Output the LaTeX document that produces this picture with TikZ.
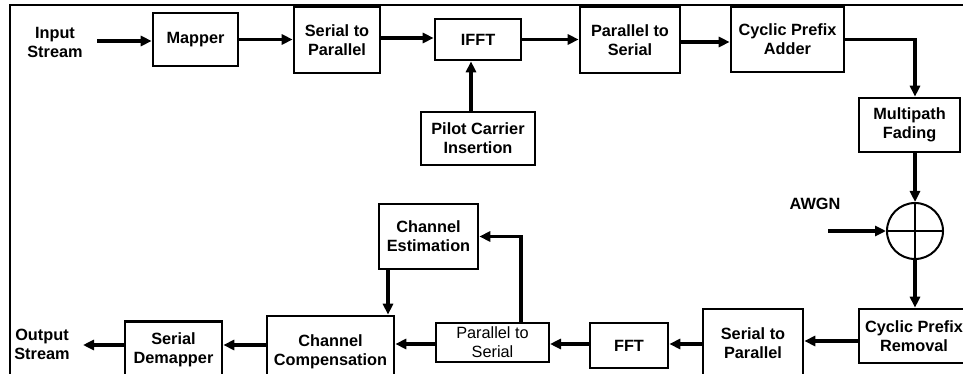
\documentclass[tikz,border=0pt]{standalone}
\usepackage{fontspec}
\setmainfont{Liberation Sans}
\usetikzlibrary{arrows.meta,calc}
\begin{document}
\begin{tikzpicture}[x=1pt,y=-1pt,
  box/.style={draw, line width=2.6pt, align=center, inner sep=0pt,
    font=\fontsize{16.3}{19}\selectfont\bfseries},
  thinbox/.style={draw, line width=2pt, align=center, inner sep=0pt,
    font=\fontsize{16.3}{19}\selectfont},
  lbl/.style={align=center, inner sep=0pt, font=\fontsize{16.3}{19}\selectfont\bfseries},
  arr/.style={line width=3.8pt, -{Triangle[length=11pt,width=10pt]}}
]
\useasboundingbox (0,0) rectangle (963,374);
% frame
\draw[line width=2.5pt] (10,375) -- (10,5) -- (965,5);

% transmitter
\node[lbl] (instr) at (55,42) {Input\\Stream};
\node[box, minimum width=85pt, minimum height=53pt] (mapper) at (195.5,39.5) {Mapper};
\node[box, minimum width=86pt, minimum height=66pt] (sp1) at (337,40) {Serial to\\Parallel};
\node[box, minimum width=86pt, minimum height=41pt] (ifft) at (478,39.5) {IFFT};
\node[box, minimum width=100pt, minimum height=66pt] (ps1) at (630,40) {Parallel to\\Serial};
\node[box, minimum width=113pt, minimum height=65pt] (cpa) at (787.5,39.5) {Cyclic Prefix\\Adder};
\node[box, minimum width=101pt, minimum height=54pt] (mf) at (909.5,125) {Multipath\\Fading};
\node[box, minimum width=114pt, minimum height=53pt] (pci) at (478,138.5) {Pilot Carrier\\Insertion};

% channel
\node[draw, circle, line width=2pt, minimum size=56pt, inner sep=0pt] (sum) at (915,231) {};
\draw[line width=2pt] (sum.north) -- (sum.south) (sum.west) -- (sum.east);
\node[lbl] (awgn) at (815,204) {AWGN};

% receiver
\node[box, minimum width=110pt, minimum height=54pt] (cpr) at (914,336) {Cyclic Prefix\\Removal};
\node[box, minimum width=100pt, minimum height=68pt] (sp2) at (753,343) {Serial to\\Parallel};
\node[box, minimum width=78pt, minimum height=45pt] (fft) at (629,345.5) {FFT};
\node[thinbox, minimum width=113pt, minimum height=39pt] (ps2) at (492.5,342.5) {Parallel to\\Serial};
\node[box, minimum width=99pt, minimum height=65pt] (ce) at (428.5,236.5) {Channel\\Estimation};
\node[box, minimum width=127pt, minimum height=72pt] (cc) at (330.5,352) {Channel\\Compensation};
\node[box, minimum width=97pt, minimum height=57pt] (sd) at (173.5,350) {Serial\\Demapper};
\node[lbl] (outstr) at (42,344) {Output\\Stream};

% helper coordinates
\coordinate (instart) at (97,41);
\coordinate (awgnin) at (828,231);
\coordinate (outend) at (83,345);
\coordinate (ya) at (0,38);
\coordinate (yb) at (0,42);
\coordinate (xp) at (471,0);
\coordinate (yr1) at (0,341);
\coordinate (yr2) at (0,344);
\coordinate (yr3) at (0,345);
\coordinate (xe) at (521,0);
\coordinate (xc) at (388,0);

% connectors transmitter
\draw[arr] (instart) -- (instart -| mapper.west);
\draw[arr] (mapper.east) -- (sp1.west |- mapper.east);
\draw[arr] (sp1.east |- ya) -- (ifft.west |- ya);
\draw[arr] (ifft.east) -- (ps1.west |- ifft.east);
\draw[arr] (ps1.east |- yb) -- (cpa.west |- yb);
\draw[arr] (cpa.east) -| (sum.north |- mf.north);
\draw[arr] (pci.north -| xp) -- (ifft.south -| xp);
\draw[arr] (sum.north |- mf.south) -- (sum.north);
\draw[arr] (awgnin) -- (sum.west);
\draw[arr] (sum.south) -- (sum.south |- cpr.north);

% connectors receiver
\draw[arr] (cpr.west |- yr1) -- (sp2.east |- yr1);
\draw[arr] (sp2.west |- yr2) -- (fft.east |- yr2);
\draw[arr] (fft.west |- yr2) -- (ps2.east |- yr2);
\draw[arr] (ps2.west |- yr2) -- (cc.east |- yr2);
\draw[arr] (cc.west |- yr3) -- (sd.east |- yr3);
\draw[arr] (sd.west |- yr3) -- (outend);
\draw[arr] (ps2.north -| xe) |- (ce.east);
\draw[arr] (ce.south -| xc) -- (cc.north -| xc);
\end{tikzpicture}
\end{document}
